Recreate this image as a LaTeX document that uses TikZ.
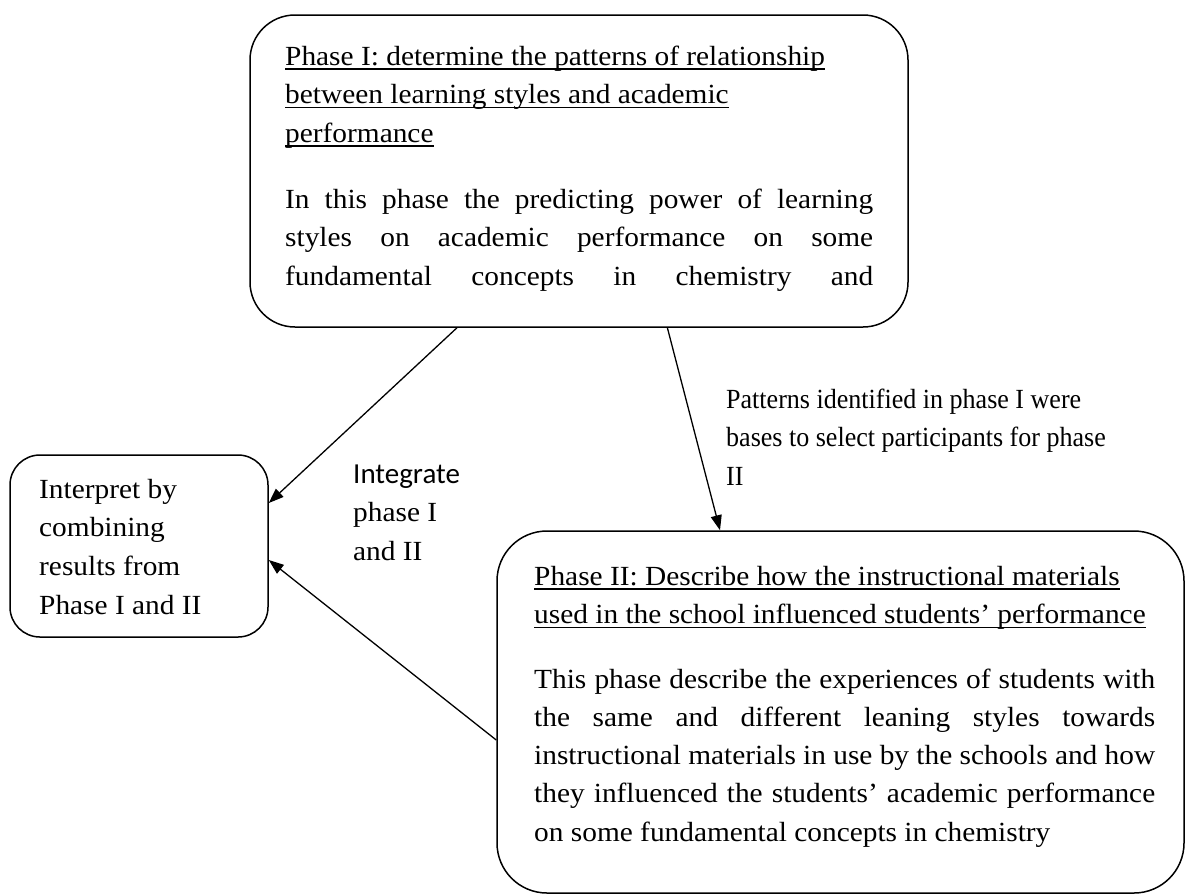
\documentclass[tikz,border=0pt]{standalone}
\usepackage{fontspec}
\setmainfont{Liberation Serif}[FakeStretch=1.06]
\newfontfamily\noteserif{Liberation Serif}[FakeStretch=0.94]
\newfontfamily\labelsans{Carlito}
\usetikzlibrary{arrows.meta,calc}

% underline a single line of text with a rule just below the baseline
\newcommand{\ulline}[1]{\leavevmode\setbox0\hbox{#1}\rlap{\rule[-4.5pt]{\wd0}{1.5pt}}\box0}
% a line of text stretched to the given width
\newcommand{\jline}[2]{\leavevmode\makebox[#1][s]{#2}}
% text sizes
\newcommand{\boxsize}{\fontsize{27.7}{38.5}\selectfont}
\newcommand{\notesize}{\noteserif\fontsize{27.7}{38.5}\selectfont}

\tikzset{
  stagebox/.style={draw, line width=1.5pt, inner sep=0pt},
  txt/.style={anchor=base west, inner sep=0pt},
  flow/.style={line width=1.3pt, -{Triangle[length=15pt,width=11pt]}}
}

\begin{document}
\begin{tikzpicture}[x=1pt,y=1pt]
\useasboundingbox (0,0) rectangle (1185,-895);

% the three stage boxes
\node[stagebox, rounded corners=45pt, minimum width=658pt, minimum height=312pt] (ph1) at (579,-171) {};
\node[stagebox, rounded corners=30pt, minimum width=258pt, minimum height=182pt] (interp) at (139,-546) {};
\node[stagebox, rounded corners=50pt, minimum width=687pt, minimum height=362pt] (ph2) at (840.5,-712) {};

% phase I text
\node[txt] (ph1head) at (285,-65) {\parbox[t]{620pt}{\boxsize
  \ulline{Phase I: determine the patterns of relationship}\\
  \ulline{between learning styles and academic}\\
  \ulline{performance}}};
\node[txt] (ph1body) at (285,-208) {\parbox[t]{620pt}{\boxsize
  \jline{588pt}{In this phase the predicting power of learning}\\
  \jline{588pt}{styles on academic performance on some}\\
  \jline{588pt}{fundamental concepts in chemistry and}}};

% interpretation box text
\node[txt] (interptext) at (39,-498) {\parbox[t]{225pt}{\fontsize{27.7}{38.8}\selectfont
  Interpret by\\ combining\\ results from\\ Phase I and II}};

% phase II text
\node[txt] (ph2head) at (534,-585) {\parbox[t]{645pt}{\boxsize
  \ulline{Phase II: Describe how the instructional materials}\\
  \ulline{used in the school influenced students’ performance}}};
\node[txt] (ph2body) at (534,-688) {\parbox[t]{645pt}{\fontsize{27.7}{38.3}\selectfont
  \jline{621pt}{This phase describe the experiences of students with}\\
  \jline{621pt}{the same and different leaning styles towards}\\
  \jline{621pt}{instructional materials in use by the schools and how}\\
  \jline{621pt}{they influenced the students’ academic performance}\\
  on some fundamental concepts in chemistry}};

% connector labels
\node[txt] (integrate) at (353,-483) {\parbox[t]{150pt}{\boxsize
  {\labelsans\fontsize{29}{38.5}\selectfont Integrate}\\ phase I\\ and II}};
\node[txt] (patterns) at (726,-408) {\parbox[t]{450pt}{\notesize
  Patterns identified in phase I were\\
  bases to select participants for phase\\
  II}};

% connectors
\draw[flow] ($(ph1.south west)!0.315!(ph1.south east)$) -- ([yshift=43pt]interp.east);
\draw[flow] ($(ph1.south west)!0.634!(ph1.south east)$) -- ($(ph2.north west)!0.325!(ph2.north east)$);
\draw[flow] ([yshift=-28pt]ph2.west) -- ([yshift=-14pt]interp.east);
\end{tikzpicture}
\end{document}
